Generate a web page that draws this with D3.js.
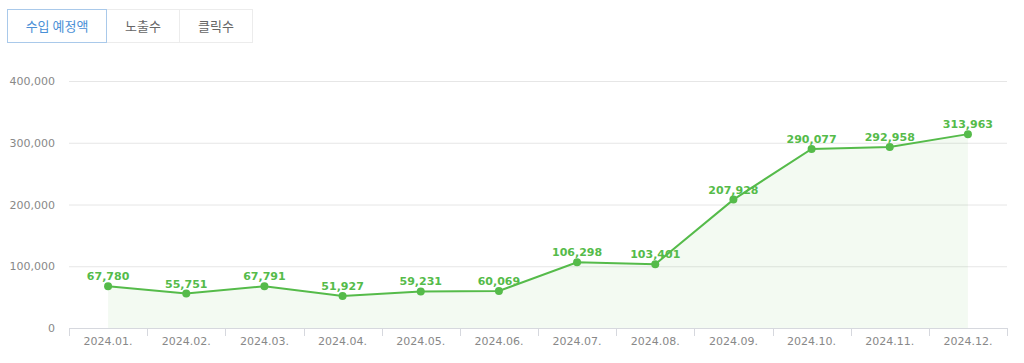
<!DOCTYPE html>
<html>
<head>
<meta charset="utf-8">
<script src="https://cdn.jsdelivr.net/npm/d3@7"></script>
<style>
  body { margin: 0; background: #fff; font-family: "DejaVu Sans", sans-serif; }
  .tabs { position: absolute; left: 7px; top: 9px; display: flex; font-family: "Noto Sans CJK KR", sans-serif; font-size: 13px; z-index: 2; }
  .tab { height: 32px; line-height: 32px; text-align: center; border: 1px solid #ececec; border-left: none; color: #666; box-sizing: content-box; }
  .tab.active { border: 1px solid #a9c9ea; color: #4a8fd6; }
  svg { position: absolute; left: 0; top: 0; }
</style>
</head>
<body>
<div class="tabs" id="tabs"></div>
<svg id="chart" width="1024" height="363"></svg>
<script>
const tabNames = ["수입 예정액", "노출수", "클릭수"];
const tabWidths = [98, 72, 72];
const months = ["2024.01.", "2024.02.", "2024.03.", "2024.04.", "2024.05.", "2024.06.",
  "2024.07.", "2024.08.", "2024.09.", "2024.10.", "2024.11.", "2024.12."];
const revenue = [67780, 55751, 67791, 51927, 59231, 60069, 106298, 103401, 207928, 290077, 292958, 313963];
const yTicks = [0, 100000, 200000, 300000, 400000];

d3.select("#tabs").selectAll(".tab")
  .data(tabNames)
  .enter()
  .append("div")
  .attr("class", (d, i) => i === 0 ? "tab active" : "tab")
  .style("width", (d, i) => tabWidths[i] + "px")
  .text(d => d);

const svg = d3.select("#chart");
const plotLeft = 69, plotRight = 1007, plotTop = 81, plotBottom = 328;

const x = d3.scaleBand().domain(months).range([plotLeft, plotRight]);
const y = d3.scaleLinear().domain([0, 400000]).range([plotBottom, plotTop]);
const fmt = d3.format(",");
const green = "#55bb4a";
const axisColor = "#d6d8de";

// gridlines
svg.append("g")
  .selectAll("line")
  .data(yTicks.filter(d => d > 0))
  .enter()
  .append("line")
  .attr("x1", plotLeft)
  .attr("x2", plotRight)
  .attr("y1", d => y(d) + 0.5)
  .attr("y2", d => y(d) + 0.5)
  .style("stroke", "#e6e6e6")
  .style("stroke-width", "1px");

// y labels
svg.append("g")
  .selectAll("text")
  .data(yTicks)
  .enter()
  .append("text")
  .attr("x", 55)
  .attr("y", d => y(d) + 4)
  .attr("text-anchor", "end")
  .style("font-size", "11px")
  .style("fill", "#888")
  .text(d => fmt(d));

// x axis
const xAxis = svg.append("g");
xAxis.append("line")
  .attr("x1", plotLeft).attr("x2", plotRight)
  .attr("y1", plotBottom + 0.5).attr("y2", plotBottom + 0.5)
  .style("stroke", axisColor);
xAxis.selectAll(".tick")
  .data(months.concat([null]))
  .enter()
  .append("line")
  .attr("class", "tick")
  .attr("x1", (d, i) => Math.round(plotLeft + i * x.step()) + 0.5)
  .attr("x2", (d, i) => Math.round(plotLeft + i * x.step()) + 0.5)
  .attr("y1", plotBottom)
  .attr("y2", plotBottom + 8)
  .style("stroke", axisColor);
xAxis.selectAll("text")
  .data(months)
  .enter()
  .append("text")
  .attr("x", d => x(d) + x.bandwidth() / 2)
  .attr("y", 345)
  .attr("text-anchor", "middle")
  .style("font-size", "11px")
  .style("fill", "#888")
  .text(d => d);

const cx = (d, i) => x(months[i]) + x.bandwidth() / 2;

const area = d3.area()
  .x(cx)
  .y0(plotBottom)
  .y1(d => y(d));
svg.append("path")
  .datum(revenue)
  .attr("d", area)
  .style("fill", green)
  .style("fill-opacity", 0.07);

const line = d3.line()
  .x(cx)
  .y(d => y(d));
svg.append("path")
  .datum(revenue)
  .attr("d", line)
  .style("fill", "none")
  .style("stroke", green)
  .style("stroke-width", "2px");

svg.append("g")
  .selectAll("circle")
  .data(revenue)
  .enter()
  .append("circle")
  .attr("cx", cx)
  .attr("cy", d => y(d))
  .attr("r", 4)
  .style("fill", green);

svg.append("g")
  .selectAll("text")
  .data(revenue)
  .enter()
  .append("text")
  .attr("x", cx)
  .attr("y", d => y(d) - 6)
  .attr("text-anchor", "middle")
  .style("font-size", "11px")
  .style("font-weight", "bold")
  .style("fill", green)
  .text(d => fmt(d));
</script>
</body>
</html>
